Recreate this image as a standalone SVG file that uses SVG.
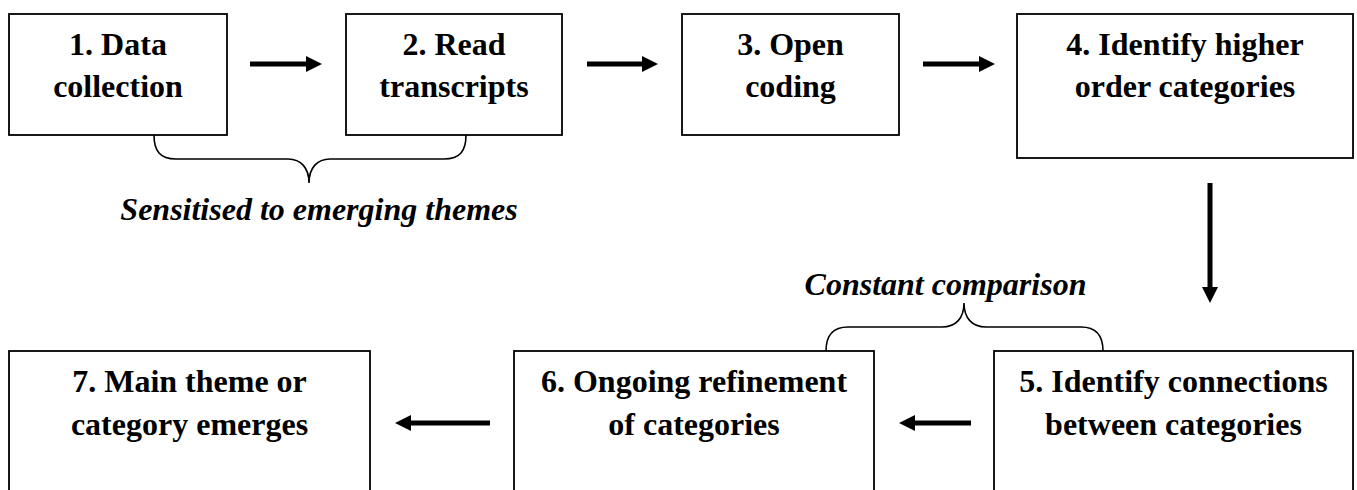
<svg xmlns="http://www.w3.org/2000/svg" width="1357" height="490" viewBox="0 0 1357 490">
<style>
.box{fill:#fff;stroke:#000;stroke-width:1.8}
.t{font-family:"Liberation Serif","Times New Roman",serif;font-weight:bold;font-size:32px;fill:#000;text-anchor:middle}
.it{font-family:"Liberation Serif","Times New Roman",serif;font-weight:bold;font-style:italic;font-size:32px;fill:#000;text-anchor:middle}
.arr{stroke:#000;stroke-width:5;fill:none}
.brace{stroke:#000;stroke-width:1.6;fill:none}
</style>
<defs>
<marker id="ah" markerUnits="userSpaceOnUse" markerWidth="17" markerHeight="17" refX="0" refY="8" orient="auto" viewBox="0 0 17 16">
<path d="M0,0 L16,8 L0,16 z" fill="#000"/>
</marker>
</defs>
<rect width="1357" height="490" fill="#fff"/>
<g id="node1">
<rect class="box" x="9" y="14" width="218" height="121"/>
<text class="t" x="118" y="55">1. Data</text>
<text class="t" x="118" y="97">collection</text>
</g>
<g id="node2">
<rect class="box" x="346" y="14" width="216" height="121"/>
<text class="t" x="454" y="55">2. Read</text>
<text class="t" x="454" y="97">transcripts</text>
</g>
<g id="node3">
<rect class="box" x="682" y="14" width="217" height="121"/>
<text class="t" x="790.5" y="55">3. Open</text>
<text class="t" x="790.5" y="97">coding</text>
</g>
<g id="node4">
<rect class="box" x="1017" y="14" width="336" height="144"/>
<text class="t" x="1185" y="55">4. Identify higher</text>
<text class="t" x="1185" y="97">order categories</text>
</g>
<g id="node5">
<rect class="box" x="994" y="351" width="359" height="150"/>
<text class="t" x="1173.5" y="392">5. Identify connections</text>
<text class="t" x="1173.5" y="435">between categories</text>
</g>
<g id="node6">
<rect class="box" x="514" y="351" width="360" height="150"/>
<text class="t" x="694" y="392">6. Ongoing refinement</text>
<text class="t" x="694" y="435">of categories</text>
</g>
<g id="node7">
<rect class="box" x="9" y="351" width="361" height="150"/>
<text class="t" x="189.5" y="392">7. Main theme or</text>
<text class="t" x="189.5" y="435">category emerges</text>
</g>
<g id="connectors">
<line class="arr" x1="250" y1="64" x2="306" y2="64" marker-end="url(#ah)"/>
<line class="arr" x1="587" y1="64" x2="642" y2="64" marker-end="url(#ah)"/>
<line class="arr" x1="923" y1="64" x2="979" y2="64" marker-end="url(#ah)"/>
<line class="arr" x1="1210" y1="183" x2="1210" y2="287" marker-end="url(#ah)"/>
<line class="arr" x1="971" y1="423" x2="915" y2="423" marker-end="url(#ah)"/>
<line class="arr" x1="490" y1="423" x2="411" y2="423" marker-end="url(#ah)"/>
</g>
<g id="brace1">
<path class="brace" d="M154,135 C154,151 160,159 176,159 L288,159 C301,159 309,168 309,183 C309,168 317,159 330,159 L444,159 C460,159 466,151 466,135"/>
<text class="it" x="319" y="220">Sensitised to emerging themes</text>
</g>
<g id="brace2">
<path class="brace" d="M826,351 C826,336 832,327 848,327 L942,327 C956,327 964,318 964,303 C964,318 972,327 986,327 L1081,327 C1097,327 1103,336 1103,351"/>
<text class="it" x="945.5" y="295">Constant comparison</text>
</g>
</svg>
